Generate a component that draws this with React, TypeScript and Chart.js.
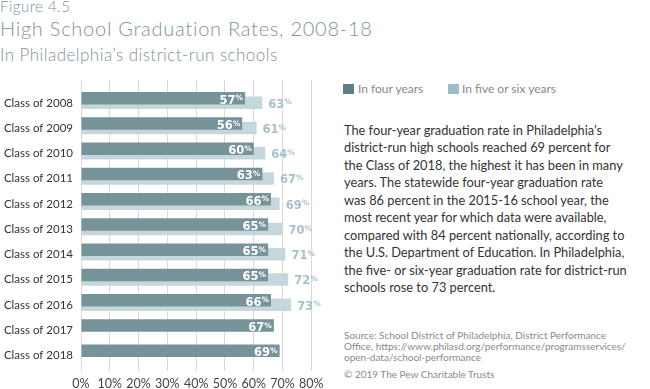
import React, { useEffect, useRef } from 'react';
import { Chart, registerables } from 'chart.js';

Chart.register(...registerables);

const categories = [
  'Class of 2008', 'Class of 2009', 'Class of 2010', 'Class of 2011', 'Class of 2012',
  'Class of 2013', 'Class of 2014', 'Class of 2015', 'Class of 2016', 'Class of 2017', 'Class of 2018',
];
const fourYear = [57, 56, 60, 63, 66, 65, 65, 65, 66, 67, 69];
const fiveSixYear = [63, 61, 64, 67, 69, 70, 71, 72, 73];
const xTickValues = [0, 10, 20, 30, 40, 50, 60, 70, 80];

const seriesNames = ['In four years', 'In five or six years'];

const bodyLines = [
  'The four-year graduation rate in Philadelphia\u2019s',
  'district-run high schools reached 69 percent for',
  'the Class of 2018, the highest it has been in many',
  'years. The statewide four-year graduation rate',
  'was 86 percent in the 2015-16 school year, the',
  'most recent year for which data were available,',
  'compared with 84 percent nationally, according to',
  'the U.S. Department of Education. In Philadelphia,',
  'the five- or six-year graduation rate for district-run',
  'schools rose to 73 percent.',
];
const sourceLines = [
  'Source: School District of Philadelphia, District Performance',
  'Office, https://www.philasd.org/performance/programsservices/',
  'open-data/school-performance',
];

const DARK = '#77939a';
const LIGHT = '#c6d7dc';
const LIGHT_LABEL = '#a6c1cb';
const TITLE = '#7d949c';

const labelPlugin = {
  id: 'barLabels',
  afterDatasetsDraw(chart: any) {
    const ctx = chart.ctx;
    chart.data.datasets.forEach((ds: any, di: number) => {
      const meta = chart.getDatasetMeta(di);
      meta.data.forEach((el: any, i: number) => {
        const v = ds.data[i].x;
        const { x, y } = el.getProps(['x', 'y'], true);
        ctx.save();
        ctx.textBaseline = 'alphabetic';
        if (di === 0) {
          ctx.fillStyle = '#ffffff';
          ctx.font = 'bold 7.5px "DejaVu Sans"';
          const pw = ctx.measureText('%').width;
          ctx.textAlign = 'right';
          ctx.fillText('%', x - 2, y + 2.2);
          ctx.font = 'bold 11.5px "DejaVu Sans"';
          ctx.fillText(String(v), x - 2 - pw, y + 5.3);
        } else {
          ctx.fillStyle = LIGHT_LABEL;
          ctx.textAlign = 'left';
          ctx.font = 'bold 11.5px "DejaVu Sans"';
          const s = String(v);
          const w = ctx.measureText(s).width;
          ctx.fillText(s, x + 6, y + 4.8);
          ctx.font = 'bold 7.5px "DejaVu Sans"';
          ctx.fillText('%', x + 6 + w, y + 1.7);
        }
        ctx.restore();
      });
    });
  },
};

function BarChart() {
  const ref = useRef<HTMLCanvasElement | null>(null);
  useEffect(() => {
    if (!ref.current) return;
    const chart = new Chart(ref.current, {
      type: 'bar',
      data: {
        datasets: [
          {
            label: seriesNames[0],
            data: fourYear.map((v, i) => ({ x: v, y: i })),
            backgroundColor: DARK,
            order: 0,
            categoryPercentage: 0.356,
            barPercentage: 2.78,
          } as any,
          {
            label: seriesNames[1],
            data: fiveSixYear.map((v, i) => ({ x: v, y: i })),
            backgroundColor: LIGHT,
            order: 1,
            categoryPercentage: 0.356,
            barPercentage: 2.78,
          } as any,
        ],
      },
      options: {
        indexAxis: 'y',
        responsive: false,
        animation: false,
        layout: { padding: { top: 10, right: 18.7, left: 0, bottom: 0 } },
        plugins: { legend: { display: false }, tooltip: { enabled: false } },
        scales: {
          x: {
            type: 'linear',
            position: 'bottom',
            min: 0,
            max: 80,
            afterBuildTicks: (s: any) => {
              s.ticks = xTickValues.map((v) => ({ value: v }));
            },
            ticks: {
              callback: (v: any) => v + '%',
              font: { family: 'Lato', size: 12.5 },
              color: '#444444',
              padding: 5,
              maxRotation: 0,
            },
            grid: { color: '#d9d9d9', lineWidth: 1, drawTicks: false },
            border: { display: false },
            afterFit: (s: any) => {
              s.height = 18;
            },
          },
          y: {
            type: 'linear',
            min: -0.81,
            max: 10.71,
            reverse: true,
            offset: false,
            ticks: {
              stepSize: 1,
              includeBounds: false,
              autoSkip: false,
              callback: (v: any) => (categories[v] !== undefined ? categories[v] : ''),
              font: { family: 'Lato', size: 11.5 },
              color: '#333333',
              padding: 8,
              labelOffset: 2.5,
            },
            grid: { display: false, drawTicks: false, offset: false },
            border: { display: false },
            afterFit: (s: any) => {
              s.width = 81;
              s.paddingTop = 0;
              s.paddingBottom = 0;
            },
          },
        },
      } as any,
      plugins: [labelPlugin],
    });
    return () => chart.destroy();
  }, []);
  return (
    <canvas
      ref={ref}
      width={330}
      height={319}
      style={{ position: 'absolute', left: 0, top: 70, width: 330, height: 319, display: 'block' }}
    />
  );
}

export default function App() {
  useEffect(() => {
    document.body.style.margin = '0';
  }, []);
  const abs = (top: number, left: number, extra: any): any => ({
    position: 'absolute',
    top,
    left,
    whiteSpace: 'nowrap',
    fontFamily: 'Lato, sans-serif',
    ...extra,
  });
  return (
    <div style={{ position: 'relative', width: 650, height: 389, overflow: 'hidden', background: '#fff' }}>
      <div style={abs(-1, 0, { fontSize: 15, lineHeight: '15px', fontWeight: 300, color: TITLE, letterSpacing: '0.5px' })}>Figure 4.5</div>
      <div style={abs(18.3, 0, { fontSize: 20, lineHeight: '20px', fontWeight: 300, color: TITLE, letterSpacing: '0.75px' })}>
        High School Graduation Rates, 2008-18
      </div>
      <div style={abs(45.5, 0, { fontSize: 17, lineHeight: '17px', fontWeight: 300, color: TITLE, letterSpacing: '0.45px' })}>
        In Philadelphia{'\u2019'}s district-run schools
      </div>
      <BarChart />
      <div style={abs(84, 343, { width: 11, height: 10, background: '#627c83' })} />
      <div style={abs(83.3, 358, { fontSize: 12, lineHeight: '12px', color: '#888888' })}>{seriesNames[0]}</div>
      <div style={abs(84, 448, { width: 10.5, height: 10, background: '#9cbcc7' })} />
      <div style={abs(83.3, 462, { fontSize: 12, lineHeight: '12px', color: '#888888' })}>{seriesNames[1]}</div>
      <div style={abs(121.5, 344, { fontSize: 12.8, lineHeight: '17.5px', color: '#333333' })}>
        {bodyLines.map((l, i) => (
          <div key={i}>{l}</div>
        ))}
      </div>
      <div style={abs(329.5, 344, { fontSize: 10, lineHeight: '11.2px', color: '#8a8a8a' })}>
        {sourceLines.map((l, i) => (
          <div key={i}>{l}</div>
        ))}
      </div>
      <div style={abs(369, 344, { fontSize: 10, lineHeight: '11.2px', color: '#8a8a8a' })}>
        {'\u00A9'} 2019 The Pew Charitable Trusts
      </div>
    </div>
  );
}
